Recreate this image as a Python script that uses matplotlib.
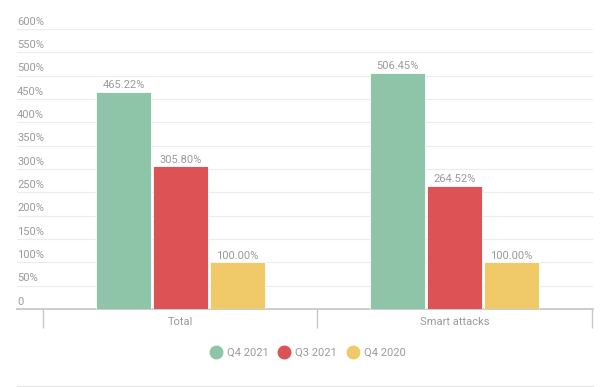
import matplotlib
matplotlib.use("Agg")
import matplotlib.pyplot as plt
from matplotlib.lines import Line2D
import numpy as np

categories = ["Total", "Smart attacks"]
series_names = ["Q4 2021", "Q3 2021", "Q4 2020"]
q4_2021 = [465.22, 506.45]
q3_2021 = [305.80, 264.52]
q4_2020 = [100.00, 100.00]
y_ticks = [0, 50, 100, 150, 200, 250, 300, 350, 400, 450, 500, 550, 600]
y_tick_labels = ["0"] + [f"{v}%" for v in y_ticks[1:]]

colors = ["#8EC4A8", "#DC5255", "#F0CA68"]
text_color = "#9a9a9a"
plt.rcParams["font.family"] = ["Roboto", "DejaVu Sans"]

W, H = 616, 387
fig = plt.figure(figsize=(W / 100, H / 100), dpi=100)
left_px, right_px, top_px, bottom_px = 17, 593, 29, 309
ax = fig.add_axes([left_px / W, 1 - bottom_px / H, (right_px - left_px) / W, (bottom_px - top_px) / H])

x = np.arange(len(categories))
width = 0.2
offset = 0.207
for i, (vals, c) in enumerate(zip([q4_2021, q3_2021, q4_2020], colors)):
    pos = x + (i - 1) * offset
    ax.bar(pos, vals, width=width, color=c, edgecolor="white", linewidth=0.6, zorder=3)
    for p, v in zip(pos, vals):
        ax.text(p, v + 3, f"{v:.2f}%", ha="center", va="bottom", fontsize=8, color=text_color, zorder=4)

ax.set_ylim(0, 600)
ax.set_xlim(-0.595, 1.504)
for spine in ["top", "right", "left"]:
    ax.spines[spine].set_visible(False)
ax.spines["bottom"].set_color("#c8c8c8")
ax.spines["bottom"].set_linewidth(1.3)

ax.set_yticks(y_ticks)
ax.set_yticklabels([])
ax.tick_params(axis="y", length=0)
ax.grid(axis="y", color="#ececec", linewidth=0.8, zorder=0)
for v, lab in zip(y_ticks, y_tick_labels):
    ax.text(0, v + 5, lab, transform=ax.get_yaxis_transform(), ha="left", va="bottom",
            fontsize=8, color=text_color)

ax.set_xticks(x)
ax.set_xticklabels(categories, fontsize=8, color=text_color)
ax.tick_params(axis="x", which="major", length=0, pad=6)
ax.set_xticks([-0.5, 0.5, 1.5], minor=True)
ax.tick_params(axis="x", which="minor", length=14, width=1, color="#c8c8c8")

handles = [Line2D([0], [0], marker="o", linestyle="none", markersize=9,
                  markerfacecolor=c, markeredgecolor=c) for c in colors]
fig.legend(handles, series_names, loc="center", bbox_to_anchor=(0.5, 1 - 353 / H),
           ncol=3, frameon=False, fontsize=8, labelcolor=text_color,
           handlelength=1.0, handletextpad=0.5, columnspacing=0.9)

fig.add_artist(Line2D([left_px / W, right_px / W], [1 - 386 / H] * 2, color="#e6e6e6", linewidth=1))

fig.savefig("out.png", dpi=100)
